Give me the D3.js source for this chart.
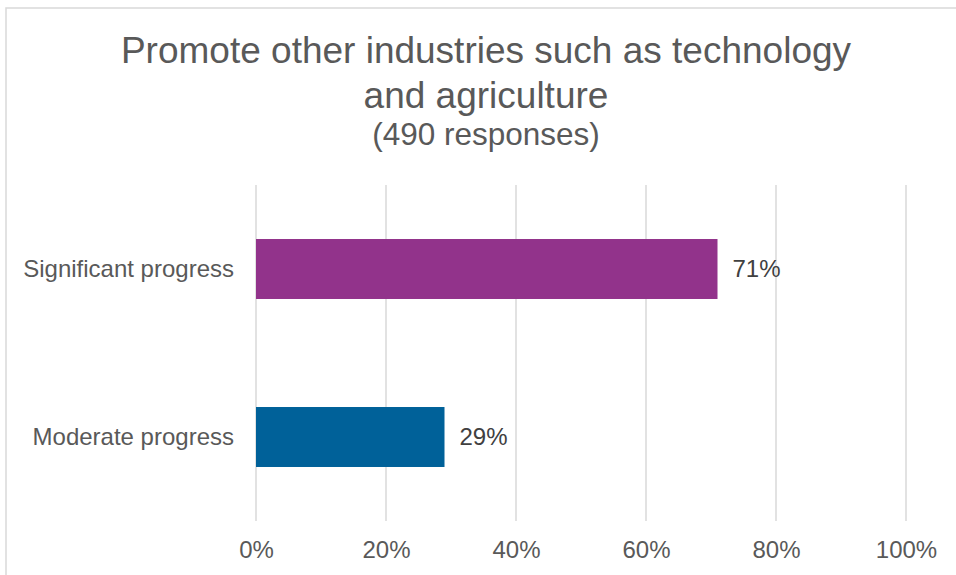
<!DOCTYPE html>
<html>
<head>
<meta charset="utf-8">
<script src="https://cdn.jsdelivr.net/npm/d3@7"></script>
<style>
  html, body { margin: 0; padding: 0; background: #fff; }
  svg { display: block; font-family: "Liberation Sans", Arial, sans-serif; }
</style>
</head>
<body>
<svg id="chart" width="956" height="575"></svg>
<script>
const titleLines = ["Promote other industries such as technology", "and agriculture"];
const subtitle = "(490 responses)";
const categories = ["Significant progress", "Moderate progress"];
const values = [0.71, 0.29];
const colors = ["#92338b", "#006199"];
const tickValues = [0, 0.2, 0.4, 0.6, 0.8, 1.0];

const svg = d3.select("#chart");

// chart border
svg.append("rect")
  .attr("x", 6).attr("y", 8)
  .attr("width", 1000).attr("height", 1000)
  .attr("fill", "none")
  .attr("stroke", "#d9d9d9")
  .attr("stroke-width", 1.5);

// titles
svg.append("text")
  .attr("x", 486).attr("y", 63)
  .attr("text-anchor", "middle")
  .attr("font-size", 37)
  .attr("fill", "#595959")
  .text(titleLines[0]);
svg.append("text")
  .attr("x", 486).attr("y", 108)
  .attr("text-anchor", "middle")
  .attr("font-size", 37)
  .attr("fill", "#595959")
  .text(titleLines[1]);
svg.append("text")
  .attr("x", 486).attr("y", 145)
  .attr("text-anchor", "middle")
  .attr("font-size", 31.5)
  .attr("fill", "#595959")
  .text(subtitle);

const x = d3.scaleLinear().domain([0, 1]).range([256, 906]);
const y = d3.scaleBand().domain(categories).range([185, 521])
  .paddingInner(0.643).paddingOuter(0.3215);

// gridlines
svg.append("g")
  .selectAll("line")
  .data(tickValues)
  .join("line")
  .attr("x1", d => x(d)).attr("x2", d => x(d))
  .attr("y1", 185).attr("y2", 521)
  .attr("stroke", "#d9d9d9")
  .attr("stroke-width", 1.5);

// x axis labels
const xAxis = d3.axisBottom(x).tickValues(tickValues)
  .tickFormat(d3.format(".0%")).tickSize(0).tickPadding(0);
const gx = svg.append("g").attr("transform", "translate(0,558)").call(xAxis);
gx.select(".domain").remove();
gx.selectAll("text")
  .attr("dy", 0)
  .attr("font-size", 24)
  .attr("font-family", "Liberation Sans, Arial, sans-serif")
  .attr("fill", "#595959");

// y axis labels
const yAxis = d3.axisLeft(y).tickSize(0).tickPadding(0);
const gy = svg.append("g").attr("transform", "translate(234,0)").call(yAxis);
gy.select(".domain").remove();
gy.selectAll("text")
  .attr("dy", "0.35em")
  .attr("font-size", 24)
  .attr("font-family", "Liberation Sans, Arial, sans-serif")
  .attr("fill", "#595959");

// bars
svg.append("g")
  .selectAll("rect")
  .data(categories)
  .join("rect")
  .attr("x", x(0))
  .attr("y", d => y(d))
  .attr("width", (d, i) => x(values[i]) - x(0))
  .attr("height", y.bandwidth())
  .attr("fill", (d, i) => colors[i]);

// data labels
svg.append("g")
  .selectAll("text")
  .data(categories)
  .join("text")
  .attr("x", (d, i) => x(values[i]) + 15)
  .attr("y", d => y(d) + y.bandwidth() / 2)
  .attr("dy", "0.35em")
  .attr("font-size", 24)
  .attr("fill", "#404040")
  .text((d, i) => d3.format(".0%")(values[i]));
</script>
</body>
</html>
